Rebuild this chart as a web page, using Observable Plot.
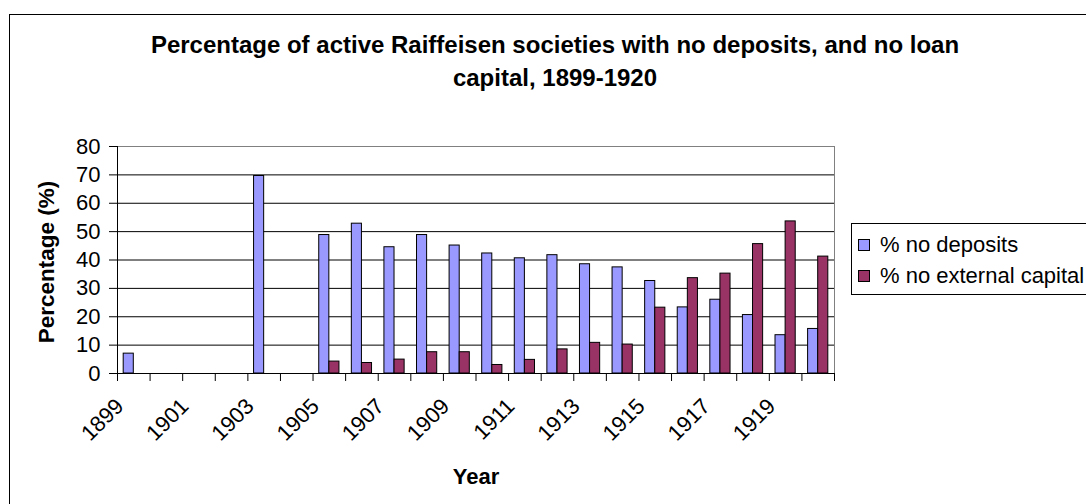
<!DOCTYPE html>
<html>
<head>
<meta charset="utf-8">
<script src="https://cdn.jsdelivr.net/npm/d3@7"></script>
<script src="https://cdn.jsdelivr.net/npm/@observablehq/plot@0.6"></script>
<style>
html, body { margin: 0; padding: 0; background: #fff; }
body { width: 1086px; height: 504px; overflow: hidden; position: relative; font-family: Arial, "Liberation Sans", sans-serif; color: #000; }
#frame { position: absolute; left: 9px; top: 14px; width: 1200px; height: 700px; border: 1px solid #000; box-sizing: border-box; }
#chart { position: absolute; left: 0; top: 0; }
#title { position: absolute; left: 0; top: 28px; width: 1110px; text-align: center; font-weight: bold; font-size: 24px; line-height: 33px; white-space: nowrap; }
#ytitle { position: absolute; left: 47px; top: 262px; transform: translate(-50%, -50%) rotate(-90deg); font-weight: bold; font-size: 22.5px; line-height: 22px; white-space: nowrap; }
#xtitle { position: absolute; left: 476px; top: 466px; transform: translateX(-50%); font-weight: bold; font-size: 22px; line-height: 22px; white-space: nowrap; }
#legend { position: absolute; left: 851px; top: 223px; width: 260px; height: 72px; border: 1px solid #000; box-sizing: border-box; background: #fff; }
.item { position: absolute; left: 6px; display: flex; align-items: center; font-size: 22px; line-height: 22px; white-space: nowrap; }
.sw { width: 12px; height: 12px; border: 1px solid #000; box-sizing: border-box; margin-right: 10px; }
</style>
</head>
<body>
<div id="frame"></div>
<div id="chart"></div>
<div id="title"></div>
<div id="ytitle"></div>
<div id="xtitle"></div>
<div id="legend"></div>
<script>
// ---- data ----
const titleLines = ["Percentage of active Raiffeisen societies with no deposits, and no loan", "capital, 1899-1920"];
const yTitle = "Percentage (%)";
const xTitle = "Year";
const years = [1899, 1900, 1901, 1902, 1903, 1904, 1905, 1906, 1907, 1908, 1909, 1910, 1911, 1912, 1913, 1914, 1915, 1916, 1917, 1918, 1919, 1920];
const noDeposits = [7.0, null, null, null, 69.6, null, 48.8, 52.8, 44.5, 48.8, 45.1, 42.3, 40.6, 41.7, 38.5, 37.4, 32.6, 23.3, 26.0, 20.6, 13.5, 15.7];
const noExternal = [null, null, null, null, null, null, 4.2, 3.7, 4.9, 7.5, 7.5, 3.0, 4.8, 8.5, 10.8, 10.2, 23.2, 33.6, 35.2, 45.6, 53.6, 41.2];
const seriesNames = ["% no deposits", "% no external capital"];
const seriesColors = ["#9999FF", "#993366"];
const yTicks = [0, 10, 20, 30, 40, 50, 60, 70, 80];
const xLabelYears = [1899, 1901, 1903, 1905, 1907, 1909, 1911, 1913, 1915, 1917, 1919];

// ---- build rows ----
const seriesValues = [noDeposits, noExternal];
const rows = [];
years.forEach((yr, i) => {
  seriesValues.forEach((vals, s) => {
    if (vals[i] != null) rows.push({year: yr, series: s, name: seriesNames[s], value: vals[i]});
  });
});
const xMin = years[0] - 0.5, xMax = years[years.length - 1] + 0.5;
const boundaries = years.map(y => y - 0.5).concat([xMax]);
const barW = 0.31;
const yMax = yTicks[yTicks.length - 1];

const chart = Plot.plot({
  width: 1086,
  height: 504,
  marginLeft: 117,
  marginRight: 252,
  marginTop: 146,
  marginBottom: 131,
  style: {fontFamily: 'Arial, "Liberation Sans", sans-serif', fontSize: "22px", color: "#000", background: "transparent", overflow: "visible"},
  x: {domain: [xMin, xMax], ticks: boundaries, tickFormat: () => "", tickSize: 8, label: null},
  y: {domain: [yTicks[0], yMax], ticks: yTicks, tickSize: 8, tickPadding: 9, label: null},
  color: {domain: seriesNames, range: seriesColors},
  marks: [
    Plot.ruleY(yTicks.filter(t => t > yTicks[0] && t < yMax), {stroke: "#000", strokeWidth: 1}),
    Plot.ruleY([yMax], {stroke: "#808080"}),
    Plot.ruleX([xMax], {stroke: "#808080"}),
    Plot.rect(rows, {
      x1: d => d.year - barW + d.series * barW,
      x2: d => d.year + d.series * barW,
      y1: 0,
      y2: "value",
      fill: "name",
      stroke: "#000",
      strokeWidth: 1
    }),
    Plot.ruleX([xMin], {stroke: "#000"}),
    Plot.ruleY([yTicks[0]], {stroke: "#000"}),
    Plot.text(xLabelYears, {x: d => d, frameAnchor: "bottom", text: d => String(d), rotate: -45, textAnchor: "end", dx: -9, dy: 34, fontSize: 22})
  ]
});
document.getElementById("chart").appendChild(chart);

// titles
const t = document.getElementById("title");
titleLines.forEach((line, i) => {
  if (i) t.appendChild(document.createElement("br"));
  t.appendChild(document.createTextNode(line));
});
document.getElementById("ytitle").textContent = yTitle;
document.getElementById("xtitle").textContent = xTitle;

// legend
const lg = document.getElementById("legend");
const rowTops = [10, 41];
seriesNames.forEach((name, i) => {
  const it = document.createElement("div");
  it.className = "item";
  it.style.top = rowTops[i] + "px";
  const sw = document.createElement("div");
  sw.className = "sw";
  sw.style.background = seriesColors[i];
  it.appendChild(sw);
  const tx = document.createElement("span");
  tx.textContent = name;
  it.appendChild(tx);
  lg.appendChild(it);
});
</script>
</body>
</html>
